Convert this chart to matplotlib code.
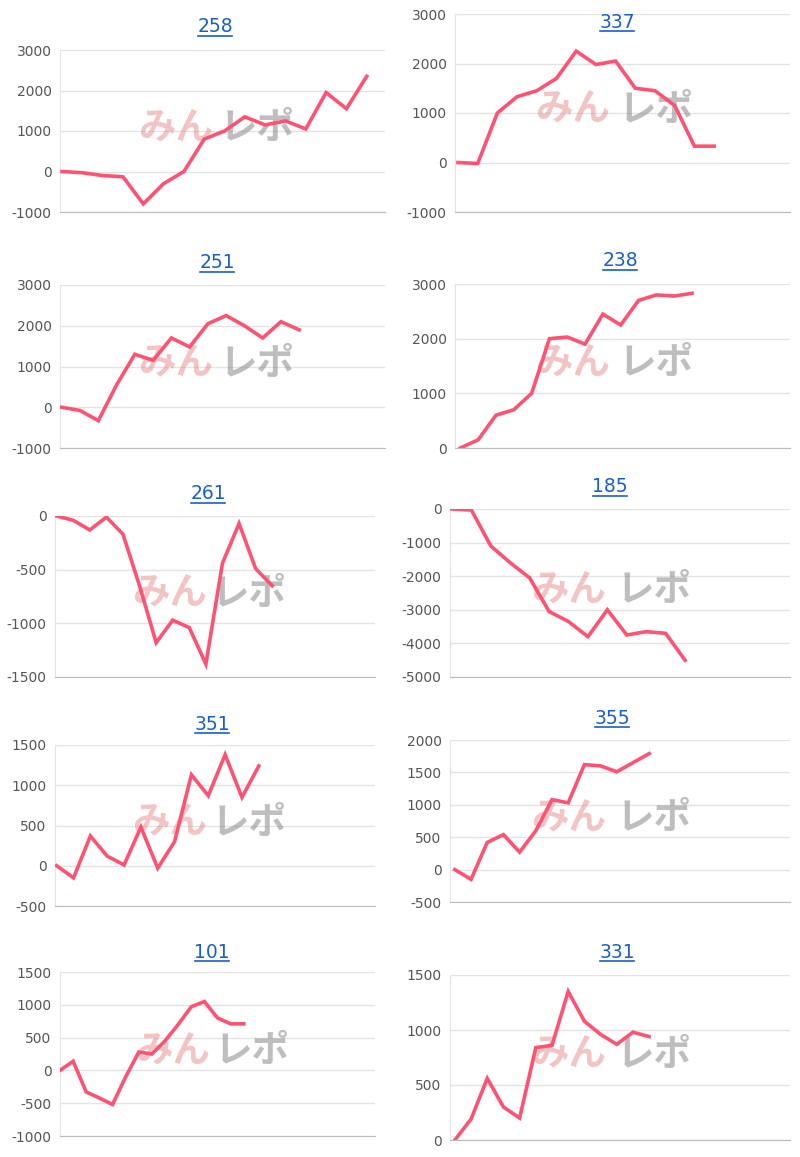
import matplotlib
matplotlib.use("Agg")
import matplotlib.pyplot as plt
from matplotlib.lines import Line2D

plt.rcParams['font.family'] = ['DejaVu Sans', 'Noto Sans CJK JP']

titles = ["258", "337", "251", "238", "261", "185", "351", "355", "101", "331"]
s258 = [0, -30, -100, -130, -800, -300, 0, 800, 1000, 1350, 1150, 1250, 1050, 1950, 1550, 2350]
s337 = [0, -20, 1000, 1330, 1450, 1700, 2250, 1980, 2050, 1500, 1450, 1150, 330, 330]
s251 = [0, -80, -330, 550, 1300, 1150, 1700, 1480, 2050, 2250, 2000, 1700, 2100, 1900]
s238 = [0, 150, 600, 700, 1000, 2000, 2030, 1900, 2450, 2250, 2700, 2800, 2780, 2830]
s261 = [0, -40, -130, -10, -170, -650, -1180, -970, -1040, -1380, -440, -70, -490, -650]
s185 = [0, -30, -1100, -1600, -2050, -3050, -3350, -3800, -3000, -3750, -3650, -3700, -4500]
s351 = [0, -150, 370, 120, 10, 480, -30, 300, 1130, 870, 1380, 850, 1240]
s355 = [0, -150, 420, 540, 270, 600, 1080, 1030, 1620, 1600, 1510, 1650, 1790]
s101 = [0, 140, -330, -420, -520, -100, 280, 250, 450, 700, 970, 1050, 800, 710, 710]
s331 = [0, 190, 560, 300, 200, 840, 860, 1350, 1080, 960, 870, 980, 940]
series = [s258, s337, s251, s238, s261, s185, s351, s355, s101, s331]
yticks = [range(-1000, 3001, 1000), range(-1000, 3001, 1000), range(-1000, 3001, 1000),
          range(0, 3001, 1000), range(-1500, 1, 500), range(-5000, 1, 1000),
          range(-500, 1501, 500), range(-500, 2001, 500), range(-1000, 1501, 500),
          range(0, 1501, 500)]

# layout (pixels): left, top, bottom, right, x-slot count, x start offset
boxes = [(60, 50, 212, 385, 16.0, -0.1), (455, 14, 212, 790, 17.0, -0.15),
         (60, 285, 448, 385, 17.8, -0.1), (455, 284, 448, 790, 18.8, -0.3),
         (55, 516, 677, 375, 19.3, -0.1), (450, 509, 677, 790, 17.5, -0.1),
         (55, 745, 906, 375, 19.0, -0.1), (450, 740, 902, 790, 21.0, -0.3),
         (60, 972, 1136, 375, 24.0, 0.0), (450, 975, 1140, 790, 21.0, -0.3)]
title_pos = [(215, 27), (617, 22), (217, 263), (620, 261), (208, 494),
             (610, 487), (212, 724), (612, 718), (212, 952), (617, 952)]

W, H = 800, 1157
fig = plt.figure(figsize=(8, 11.57), dpi=100)
for i in range(10):
    l, t, b, r, n, x0 = boxes[i]
    ax = fig.add_axes([l / W, 1 - b / H, (r - l) / W, (b - t) / H])
    yt = list(yticks[i])
    ax.set_ylim(yt[0], yt[-1])
    ax.set_xlim(x0, x0 + n)
    ax.set_yticks(yt)
    ax.set_yticklabels([str(v) for v in yt])
    ax.set_xticks([])
    ax.grid(axis='y', color='#e3e3e3', lw=1)
    ax.set_axisbelow(True)
    for s in ['top', 'right']:
        ax.spines[s].set_visible(False)
    ax.spines['left'].set_color('#e3e3e3')
    ax.spines['bottom'].set_color('#bbbbbb')
    ax.tick_params(axis='y', length=0, labelsize=10, colors='#555555', pad=6)
    # watermark
    ax.text(0.24, 0.52, "みん", transform=ax.transAxes, fontsize=27, fontweight='bold',
            style='italic', color='#e88a8a', alpha=0.5, va='center',
            family=['Noto Sans CJK JP'])
    ax.text(0.49, 0.52, "レポ", transform=ax.transAxes, fontsize=27, fontweight='bold',
            style='italic', color='#8a8a8a', alpha=0.55, va='center',
            family=['Noto Sans CJK JP'])
    ys = series[i]
    ax.plot(range(len(ys)), ys, color='#ff5272', lw=2.6, solid_joinstyle='miter', zorder=3)
    tx, ty = title_pos[i]
    fig.text(tx / W, 1 - ty / H, titles[i], ha='center', va='center', fontsize=13.5,
             color='#1a5fc9')
    fig.add_artist(Line2D([(tx - 17) / W, (tx + 17) / W], [1 - (ty + 9) / H] * 2,
                          color='#1a5fc9', lw=1.2))

fig.savefig("out.png", dpi=100, facecolor='white')
